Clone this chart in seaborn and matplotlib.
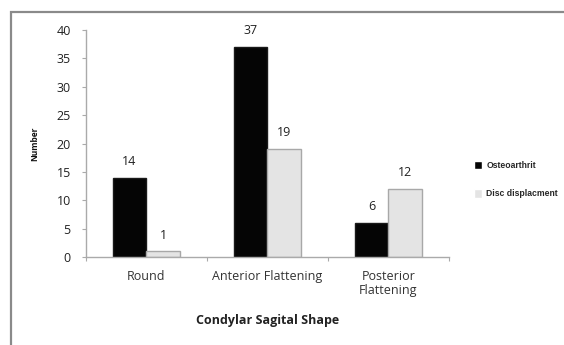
import matplotlib
matplotlib.use("Agg")
import matplotlib.pyplot as plt
import seaborn as sns
import pandas as pd
from matplotlib.patches import Rectangle

# Data
categories = ["Round", "Anterior Flattening", "Posterior\nFlattening"]
series_names = ["Osteoarthrit", "Disc displacment"]
osteoarthrit = [14, 37, 6]
disc_displacment = [1, 19, 12]
y_ticks = [0, 5, 10, 15, 20, 25, 30, 35, 40]

df = pd.DataFrame({
    "shape": categories * 2,
    "series": [series_names[0]] * 3 + [series_names[1]] * 3,
    "value": osteoarthrit + disc_displacment,
})

sns.set_theme(style="white")
plt.rcParams["font.family"] = ["Open Sans", "DejaVu Sans"]

fig = plt.figure(figsize=(5.64, 3.45), dpi=100)
fig.patch.set_facecolor("white")
ax = fig.add_axes([0.1525, 0.255, 0.6435, 0.658])

palette = {series_names[0]: "#050505", series_names[1]: "#e4e4e4"}
sns.barplot(data=df, x="shape", y="value", hue="series", order=categories,
            hue_order=series_names, palette=palette, width=0.56, ax=ax,
            saturation=1, errorbar=None, legend=True)

# bar edges
for container, edge in zip(ax.containers, ["#1a1a1a", "#a8a8a8"]):
    for bar in container:
        bar.set_edgecolor(edge)
        bar.set_linewidth(1.0)
    ax.bar_label(container, padding=7, fontsize=9, color="#222222")

ax.set_ylim(0, 40)
ax.set_xlim(-0.5, 2.5)
ax.set_yticks(y_ticks)
ax.set_yticklabels([str(t) for t in y_ticks], fontsize=9, color="#222222")
ax.tick_params(axis="y", length=3, width=0.8, color="#aaaaaa", pad=8, left=True)

# category labels centred, ticks at category boundaries
ax.set_xticks([0, 1, 2])
ax.set_xticklabels(categories, fontsize=9, color="#333333", linespacing=1.15)
ax.tick_params(axis="x", length=0, pad=9)
ax.set_xticks([-0.5, 0.5, 1.5, 2.5], minor=True)
ax.tick_params(axis="x", which="minor", length=3, width=0.8, color="#aaaaaa", bottom=True)

for side in ["top", "right"]:
    ax.spines[side].set_visible(False)
for side in ["left", "bottom"]:
    ax.spines[side].set_color("#aaaaaa")
    ax.spines[side].set_linewidth(1.0)

ax.set_ylabel("Number", fontsize=6, fontweight="bold", labelpad=12, color="#111111")
ax.set_xlabel("Condylar Sagital Shape", fontsize=9, fontweight="bold",
              labelpad=12, color="#222222")

leg = ax.legend(loc="upper left", bbox_to_anchor=(1.069, 0.425), frameon=False,
                fontsize=6.2, handlelength=0.95, handleheight=1.2,
                handletextpad=0.5, labelspacing=2.2, borderaxespad=0,
                borderpad=0)
for text in leg.get_texts():
    text.set_fontweight("bold")
    text.set_fontfamily(["Liberation Sans", "DejaVu Sans"])

# chart frame
fig.add_artist(Rectangle((11 / 564, -0.02), 1.0, 1 - 12 / 345 + 0.02,
                         transform=fig.transFigure, fill=False,
                         edgecolor="#8a8a8a", linewidth=1.6))

fig.savefig("out.png", dpi=100, facecolor="white")
